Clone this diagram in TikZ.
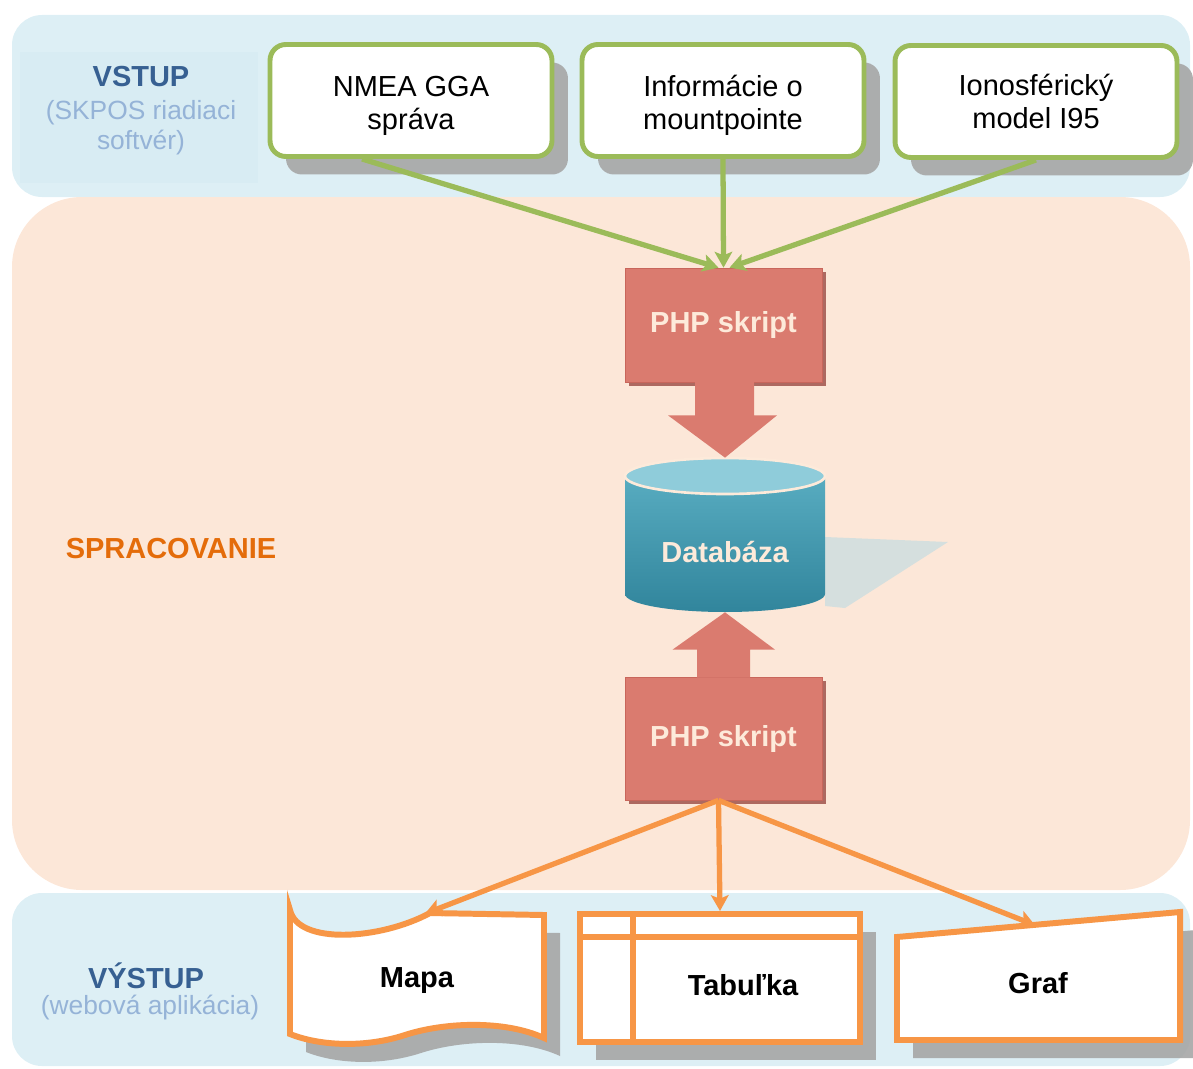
\documentclass[tikz,border=0pt]{standalone}
\usepackage{fontspec}
\setmainfont{Liberation Sans}
\definecolor{vgreen}{HTML}{9BBB59}
\definecolor{vorange}{HTML}{F79646}
\definecolor{darkblue}{HTML}{376092}
\definecolor{paleblue}{HTML}{95B3D7}
\definecolor{sorange}{HTML}{E46C0A}
\definecolor{bandblue}{HTML}{DDEFF5}
\definecolor{labelblue}{HTML}{D8ECF3}
\definecolor{bandpeach}{HTML}{FCE7D8}
\definecolor{phpred}{HTML}{DA7B6F}
\definecolor{phpedge}{HTML}{C8665B}
\definecolor{phpshadow}{HTML}{9A4A42}
\definecolor{phptext}{HTML}{FDEADA}
\definecolor{dbtop}{HTML}{5DB1C5}
\definecolor{dbbot}{HTML}{31859C}
\definecolor{dbcap}{HTML}{8FCCDA}
\definecolor{dbshadow}{HTML}{B5D9E3}
\definecolor{shadowgray}{HTML}{A6A6A6}
\usetikzlibrary{arrows.meta, calc, shadows}

\begin{document}
\begin{tikzpicture}[x=0.02cm, y=0.02cm,
  every node/.style={font=\fontsize{16.5}{19}\selectfont},
  boxshadow/.style={drop shadow={shadow xshift=0.32cm, shadow yshift=-0.36cm,
                    fill=shadowgray, opacity=0.9}},
  inbox/.style={rectangle, draw=vgreen, line width=2.8pt, rounded corners=9pt,
                fill=white, minimum width=5.64cm, minimum height=2.24cm,
                align=center, boxshadow},
  phpbox/.style={rectangle, fill=phpred, draw=phpedge, thin, minimum width=3.94cm,
                 text=phptext, font=\fontsize{16.5}{19}\selectfont\bfseries,
                 drop shadow={shadow xshift=2pt, shadow yshift=-2pt,
                              fill=phpshadow, opacity=0.8}},
  headlabel/.style={font=\fontsize{16.5}{19}\selectfont\bfseries},
  sublabel/.style={font=\fontsize{15}{17}\selectfont, text=paleblue, align=center},
  outshape/.style={draw=vorange, line width=3.4pt, fill=white, boxshadow},
  outlabel/.style={font=\fontsize{16.5}{19}\selectfont\bfseries},
  inarrow/.style={-{Stealth[length=9pt, width=10pt, inset=2pt]}, vgreen, line width=3pt},
  outarrow/.style={-{Stealth[length=9pt, width=10pt, inset=2pt]}, vorange, line width=3pt},
]
  \useasboundingbox (0,0) rectangle (1193,-1068);

  % Pasy
  \fill[bandblue, rounded corners=0.6cm] (12,-15) rectangle (1190,-197);
  \fill[labelblue] (20,-52) rectangle (258,-183);
  \fill[bandpeach, rounded corners=1.4cm] (12,-197) rectangle (1190,-890);
  \fill[bandblue, rounded corners=0.6cm] (12,-893) rectangle (1190,-1066);

  % Vstup
  \node[headlabel, text=darkblue] (vstup) at (141,-77) {VSTUP};
  \node[sublabel] (vstupsub) at (141,-125) {(SKPOS riadiaci\\\smash{softvér)}};
  \node[inbox] (nmea) at (411,-100.5) {\vphantom{Í}NMEA GGA\\\smash{správa}};
  \node[inbox] (mount) at (723,-100.5) {\vphantom{Í}Informácie o\\\smash{mountpointe}};
  \node[inbox] (iono) at (1036,-101.5) {Ionosférický\\\smash{model I95}};

  % Spracovanie
  \node[headlabel, text=sorange] (sprac) at (171,-549) {SPRACOVANIE};

  % databaza
  \fill[dbshadow, opacity=0.55] (825,-537) -- (948,-542) -- (845,-608) -- (825,-606) -- cycle;
  \node[minimum width=4cm, minimum height=3.08cm] (db) at (725,-535) {};
  \shade[top color=dbtop, bottom color=dbbot]
    ($(db.center)+(-100,59)$) -- ($(db.center)+(-100,-59)$)
    arc[start angle=180, end angle=360, x radius=100, y radius=18]
    -- ($(db.center)+(100,59)$)
    arc[start angle=0, end angle=180, x radius=100, y radius=18] -- cycle;
  \filldraw[fill=dbcap, draw=phptext, line width=1.5pt]
    ($(db.center)+(0,59)$) ellipse[x radius=100, y radius=18];
  \node[outlabel, text=phptext] (dblabel) at ($(db.center)+(0,-17)$) {Databáza};

  % PHP skripty
  \node[phpbox, minimum height=2.28cm] (php1) at (723.5,-325) {PHP skript};
  \fill[phpred] ($(php1.south)+(-28.5,1)$) -- ++(0,-34) -- ++(-27,0) -- (db.north)
    -- ($(php1.south)+(53.5,-33)$) -- ++(-23,0) -- ++(0,34) -- cycle;
  \node[phpbox, minimum height=2.46cm] (php2) at (723.5,-738.5) {PHP skript};
  \fill[phpred] ($(php2.north)+(-26.5,-1)$) -- ++(0,28) -- ++(-24.5,0) -- (db.south)
    -- ($(php2.north)+(51.5,27)$) -- ++(-25,0) -- ++(0,-28) -- cycle;

  \draw[inarrow] ($(nmea.south)+(-49,0)$) -- ($(php1.north)+(-5,0)$);
  \draw[inarrow] (mount.south) -- (php1.north);
  \draw[inarrow] (iono.south) -- ($(php1.north)+(6,0)$);

  % Vystup
  \node[headlabel, text=darkblue] (vystup) at (146,-976) {VÝSTUP};
  \node[sublabel] (vystupsub) at (150,-1008) {(webová aplikácia)};

  \path[outshape] (290,-910) .. controls (298,-945) and (380,-940) .. (430,-913)
    -- (544,-915) -- (544,-1038)
    .. controls (505,-1020) and (445,-1022) .. (405,-1035)
    .. controls (365,-1048) and (320,-1046) .. (290,-1034) -- cycle;
  \node[outlabel, minimum width=5.1cm, minimum height=2.6cm] (mapa) at (417,-981) {Mapa};

  \node[outshape, rectangle, minimum width=5.6cm, minimum height=2.56cm] (tab) at (720,-978) {};
  \draw[vorange, line width=3.4pt] ($(tab.north west)+(0,-26)$) -- ($(tab.north east)+(0,-26)$);
  \draw[vorange, line width=3.4pt] ($(tab.north west)+(56,0)$) -- ($(tab.south west)+(56,0)$);
  \node[outlabel] (tablabel) at (743,-985) {Tabuľka};

  \path[outshape] (897,-937) -- (1180,-912) -- (1180,-1040) -- (897,-1040) -- cycle;
  \node[outlabel, minimum height=1.9cm] (graf) at (1038,-983) {Graf};

  \draw[outarrow] ($(php2.south)+(-5,0)$) -- ($(mapa.north)+(8,2)$);
  \draw[outarrow] ($(php2.south)+(-5,0)$) -- (tab.north);
  \draw[outarrow] ($(php2.south)+(-5,0)$) -- ($(graf.north)+(-3,10)$);
\end{tikzpicture}
\end{document}
